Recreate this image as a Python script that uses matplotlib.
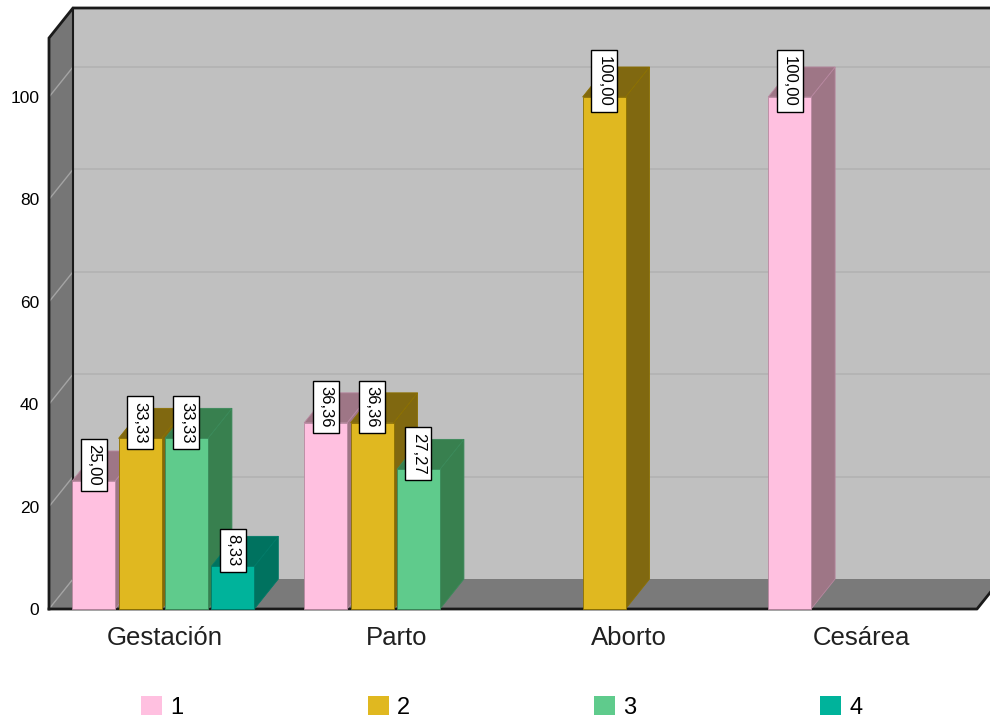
import matplotlib.pyplot as plt
from matplotlib.patches import Polygon, Patch
import numpy as np

plt.rcParams['font.family'] = ['Liberation Sans', 'DejaVu Sans']

categories = ['Gestación', 'Parto', 'Aborto', 'Cesárea']
series_names = ['1', '2', '3', '4']
s1 = [25.00, 36.36, 0, 100.00]
s2 = [33.33, 36.36, 100.00, 0]
s3 = [33.33, 27.27, 0, 0]
s4 = [8.33, 0, 0, 0]
values = [s1, s2, s3, s4]

front_colors = ['#FFC0E0', '#E0B820', '#5FCB8C', '#00B39B']
side_colors = ['#9E7686', '#806810', '#38804F', '#00725F']
edge_colors = ['#B888A0', '#8C7000', '#3A8A5A', '#007A68']

W, H = 990, 722
fig = plt.figure(figsize=(W / 100, H / 100), dpi=100)
# front plane of the pseudo-3d box, in pixels
left_px, right_px, bottom_px, top_px = 49, 977, 609, 38
ax = fig.add_axes([left_px / W, (H - bottom_px) / H,
                   (right_px - left_px) / W, (bottom_px - top_px) / H])
xmin, xmax = -0.5, 3.5
ymax = (bottom_px - top_px) / 5.12
ax.set_xlim(xmin, xmax)
ax.set_ylim(0, ymax)
ax.patch.set_visible(False)
for s in ax.spines.values():
    s.set_visible(False)

# depth offset (24 px right, 30 px up) in data units
dx = 24 / ((right_px - left_px) / (xmax - xmin))
dy = 30 / 5.12

# walls and floor
ax.add_patch(Polygon([(xmin + dx, dy), (xmax + dx, dy), (xmax + dx, ymax + dy), (xmin + dx, ymax + dy)],
                     closed=True, fc='#C0C0C0', ec='none', zorder=0, clip_on=False))
ax.add_patch(Polygon([(xmin, 0), (xmin + dx, dy), (xmin + dx, ymax + dy), (xmin, ymax)],
                     closed=True, fc='#767676', ec='none', zorder=0.5, clip_on=False))
ax.add_patch(Polygon([(xmin, 0), (xmax, 0), (xmax + dx, dy), (xmin + dx, dy)],
                     closed=True, fc='#7A7A7A', ec='none', zorder=0.5, clip_on=False))

yticks = [0, 20, 40, 60, 80, 100]
for t in yticks:
    if t > 0:
        ax.plot([xmin + dx, xmax + dx], [t + dy, t + dy], color='#B2B2B2', lw=1.2, zorder=0.3, clip_on=False)
    ax.plot([xmin, xmin + dx], [t, t + dy], color='#A4A4A4', lw=1, zorder=0.6, clip_on=False)

# box edges
ax.plot([xmin, xmin, xmin + dx, xmax + dx], [0, ymax, ymax + dy, ymax + dy],
        color='#1A1A1A', lw=2, zorder=1, clip_on=False, solid_joinstyle='miter')
ax.plot([xmin + dx, xmin + dx], [dy, ymax + dy], color='#1A1A1A', lw=1.5, zorder=1, clip_on=False)
ax.plot([xmin, xmax, xmax + dx], [0, 0, dy], color='#1A1A1A', lw=2, zorder=1, clip_on=False)

# bars, drawn left to right so nearer faces cover the sides
slot, bw = 0.2, 0.185
z = 2
for i in range(len(categories)):
    for j, vals in enumerate(values):
        v = vals[i]
        if v <= 0:
            continue
        x0 = i - 0.4 + slot * j
        x1 = x0 + bw
        ax.add_patch(Polygon([(x1, 0), (x1 + dx, dy), (x1 + dx, v + dy), (x1, v)], closed=True,
                             fc=side_colors[j], ec=edge_colors[j], lw=0.6, zorder=z, clip_on=False))
        ax.add_patch(Polygon([(x0, v), (x1, v), (x1 + dx, v + dy), (x0 + dx, v + dy)], closed=True,
                             fc=side_colors[j], ec=edge_colors[j], lw=0.6, zorder=z, clip_on=False))
        ax.bar(x0, v, width=bw, align='edge', color=front_colors[j], edgecolor=edge_colors[j],
               lw=0.6, zorder=z + 0.5, clip_on=False)
        z += 1

for i in range(len(categories)):
    for j, vals in enumerate(values):
        v = vals[i]
        if v <= 0:
            continue
        x0 = i - 0.4 + slot * j
        ax.annotate(f'{v:.2f}'.replace('.', ','), xy=(x0 + bw / 2, v), xytext=(0, 16),
                    textcoords='offset pixels', rotation=-90, ha='center', va='center',
                    fontsize=12, zorder=100,
                    bbox=dict(boxstyle='square,pad=0.33', fc='white', ec='black', lw=1))

ax.set_yticks(yticks)
ax.set_yticklabels([str(t) for t in yticks], fontsize=12.5)
ax.set_xticks(range(len(categories)))
ax.set_xticklabels(categories, fontsize=18.5, color='#202020')
ax.tick_params(axis='y', length=0, pad=7)
ax.tick_params(axis='x', length=0, pad=12)

handles = [Patch(fc=c, ec='none') for c in front_colors]
fig.legend(handles, series_names, loc='center', bbox_to_anchor=(0.507, 0.02), ncol=4,
           frameon=False, fontsize=17, handlelength=0.89, handleheight=0.85,
           handletextpad=0.34, columnspacing=7.8, borderpad=0)

fig.savefig('out.png', dpi=100)
